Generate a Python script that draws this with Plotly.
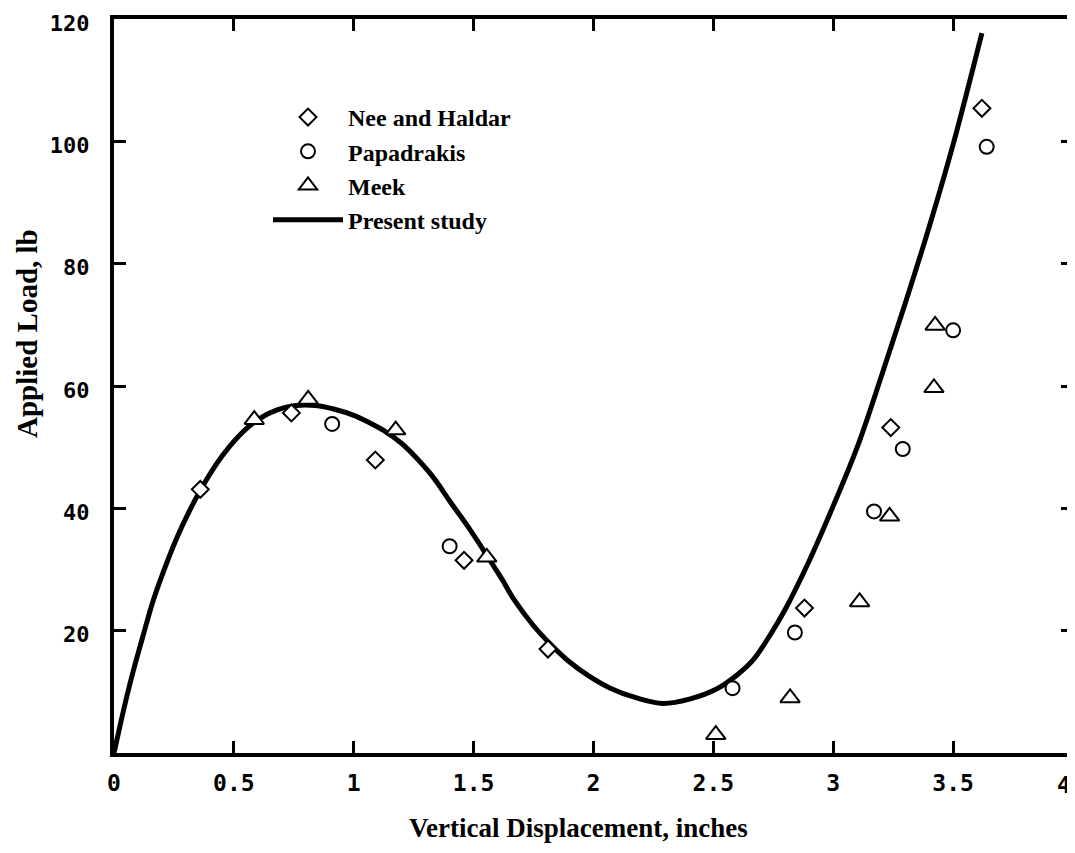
import plotly.graph_objects as go

# Present study curve
curve_x = [0, 0.03, 0.06, 0.09, 0.12, 0.16, 0.2, 0.26, 0.32, 0.38, 0.45, 0.52, 0.6, 0.68, 0.76,
           0.84, 0.92, 1.0, 1.06, 1.126, 1.2, 1.26, 1.335, 1.4, 1.48, 1.557, 1.62, 1.668, 1.75,
           1.82, 1.89, 1.98, 2.07, 2.18, 2.29, 2.4, 2.515, 2.6, 2.668, 2.74, 2.8, 2.896, 3.0,
           3.1, 3.2, 3.3, 3.4, 3.5, 3.62]
curve_y = [0, 5.3, 10.3, 14.8, 19, 24.5, 29, 35, 40, 44.3, 48.5, 51.8, 54.5, 56.1, 56.8,
           56.8, 56.2, 55.2, 54.1, 52.7, 50.6, 48.3, 44.9, 41.2, 36.8, 32.2, 28.3, 25.1, 20.8,
           17.8, 15.2, 12.6, 10.6, 9.0, 8.1, 8.8, 10.5, 12.8, 15.3, 19.5, 23.5, 31.1, 40.4,
           50, 61.5, 73.5, 86, 99.5, 117.7]

nee_x = [0.36, 0.74, 1.09, 1.46, 1.81, 2.88, 3.24, 3.62]
nee_y = [43.1, 55.6, 47.9, 31.5, 17.0, 23.7, 53.2, 105.4]

papa_x = [0.91, 1.40, 2.58, 2.84, 3.17, 3.29, 3.50, 3.64]
papa_y = [53.8, 33.8, 10.6, 19.7, 39.5, 49.7, 69.1, 99.1]

meek_x = [0.585, 0.81, 1.175, 1.555, 2.51, 2.82, 3.11, 3.235, 3.42, 3.425]
meek_y = [54.5, 57.8, 52.8, 32.0, 3.0, 9.0, 24.7, 38.7, 59.7, 69.9]

x_ticks = [0, 0.5, 1, 1.5, 2, 2.5, 3, 3.5, 4]
x_labels = ["0", "0.5", "1", "1.5", "2", "2.5", "3", "3.5", ""]
last_x_label = "4"
y_ticks = [20, 40, 60, 80, 100, 120]
y_labels = ["20", "40", "60", "80", "100", "120"]

serif = "Liberation Serif"
mono = "DejaVu Sans Mono"

# target plot-area edges in page pixels; the page body adds an 8px margin
OFF = 8
L, R, T, B = 114, 1073, 19, 753
PW, PH = R - L, B - T
FW, FH = 1075 - OFF, 853 - OFF

fig = go.Figure()
fig.add_trace(go.Scatter(x=curve_x, y=curve_y, mode="lines", name="Present study",
                         line=dict(color="black", width=5, shape="spline", smoothing=1.0),
                         legendrank=4))
mk = dict(color="white", line=dict(color="black", width=2))
fig.add_trace(go.Scatter(x=nee_x, y=nee_y, mode="markers", name="Nee and Haldar",
                         marker=dict(symbol="diamond", size=13, **mk), legendrank=1))
fig.add_trace(go.Scatter(x=papa_x, y=papa_y, mode="markers", name="Papadrakis",
                         marker=dict(symbol="circle", size=14, **mk), legendrank=2))
fig.add_trace(go.Scatter(x=meek_x, y=meek_y, mode="markers", name="Meek",
                         marker=dict(symbol="triangle-up", size=17, **mk), legendrank=3))

xtickfont = dict(family=mono, size=23, color="black", weight="bold")
ytickfont = dict(family=mono, size=22, color="black", weight="bold")
axis_common = dict(showline=True, linewidth=4, linecolor="black", mirror="ticks",
                   ticks="inside", ticklen=12, tickwidth=3, tickcolor="black",
                   showgrid=False, zeroline=False, automargin=False,
                   ticklabeloverflow="allow")

fig.update_xaxes(range=[0, 4], tickvals=x_ticks, ticktext=x_labels,
                 ticklabelstandoff=6, tickfont=xtickfont, **axis_common)
fig.update_yaxes(range=[0, 120], tickvals=y_ticks, ticktext=y_labels,
                 ticklabelstandoff=16, ticklabelshift=4, tickfont=ytickfont, **axis_common)

fig.update_layout(
    width=FW, height=FH,
    margin=dict(l=L - OFF, r=FW - (R - OFF), t=T - OFF, b=FH - (B - OFF)),
    paper_bgcolor="white", plot_bgcolor="white",
    showlegend=True,
    legend=dict(x=(268 - L) / PW, y=1 - (95 - T) / PH, xanchor="left", yanchor="top",
                bgcolor="rgba(0,0,0,0)", itemwidth=70,
                font=dict(family=serif, size=24, color="black", weight="bold"),
                tracegroupgap=0),
    annotations=[
        dict(text=last_x_label, x=x_ticks[-1], y=0, xref="x", yref="y",
             xanchor="right", yanchor="top", yshift=-17, showarrow=False,
             font=xtickfont),
        dict(text="Vertical Displacement, inches", xref="paper", yref="paper",
             x=(578 - L) / PW, y=(B - 828) / PH, xanchor="center", yanchor="middle",
             showarrow=False, font=dict(family=serif, size=27, color="black", weight="bold")),
        dict(text="Applied Load, lb", xref="paper", yref="paper",
             x=(27 - L) / PW, y=(B - 334) / PH, xanchor="center", yanchor="middle",
             textangle=-90, showarrow=False,
             font=dict(family=serif, size=29, color="black", weight="bold")),
    ],
)

fig.write_html("out.html")
